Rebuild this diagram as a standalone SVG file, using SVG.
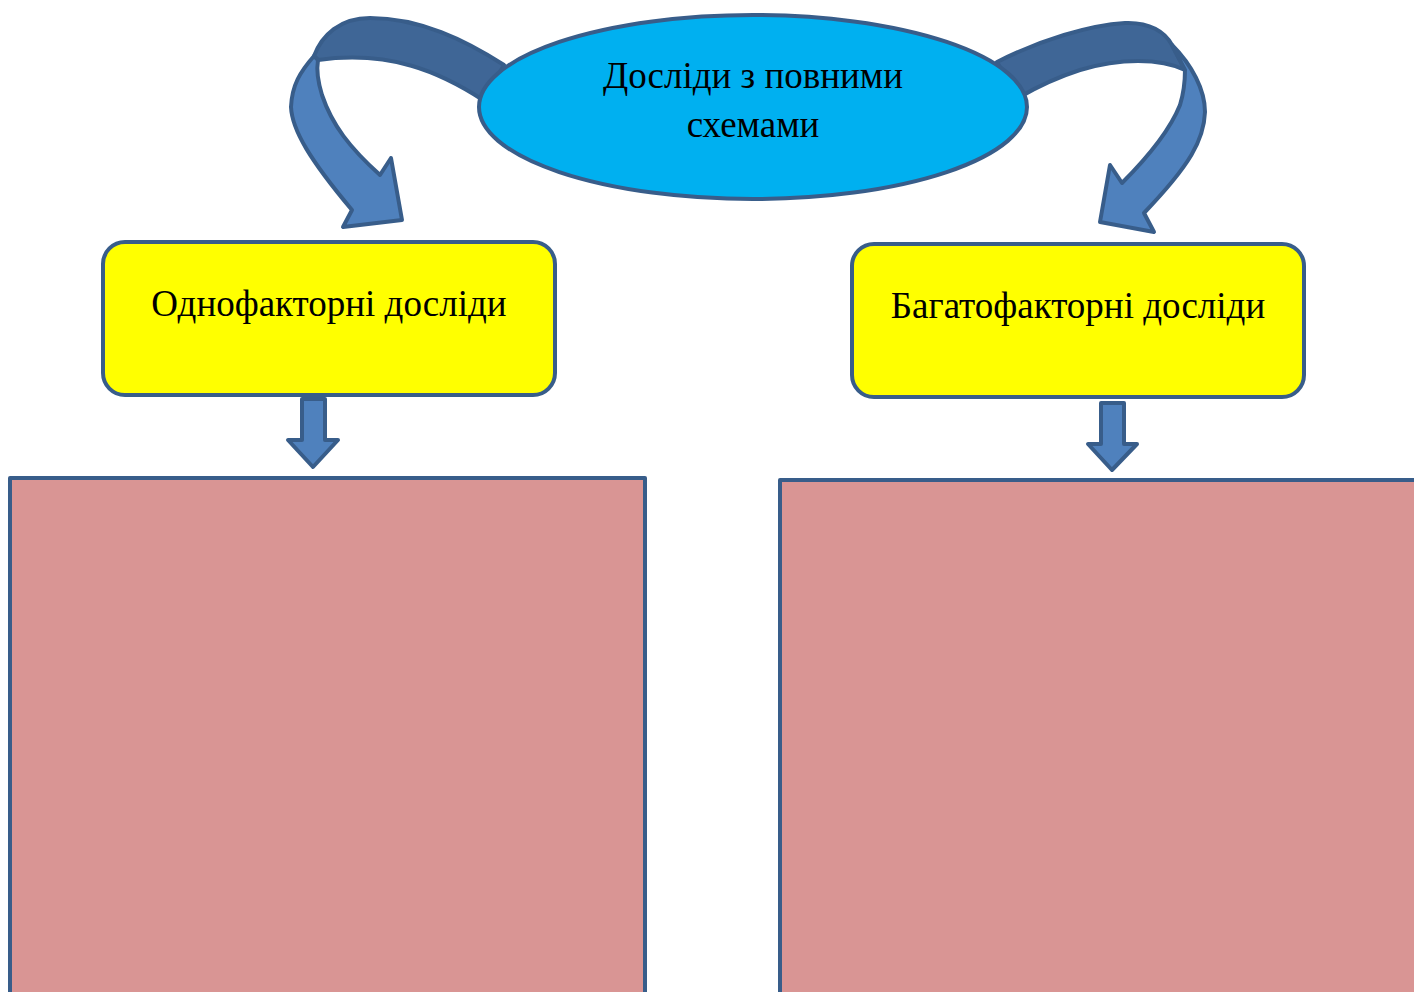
<svg xmlns="http://www.w3.org/2000/svg" width="1414" height="992" viewBox="0 0 1414 992">
<style>
.st{stroke:#385D8A;stroke-width:4;stroke-linejoin:round}
.pink{fill:#D99594}
.yel{fill:#FFFF00}
.front{fill:#4F81BD}
.back{fill:#3F6696}
.t{font-family:"Liberation Serif","Times New Roman",serif;font-size:37px;fill:#000;text-anchor:middle}
</style>
<rect width="1414" height="992" fill="#fff"/>
<g id="connectors">
  <path class="st back" d="M 314,56 C 322,35 340,18 370,18 C 420,18 465,40 504,65 L 483,100 C 440,72 390,50 318,60 Z"/>
  <path class="st front" d="M 314,56 C 300,72 292,85 291,107 C 292,130 310,160 352,210 L 343,227 L 402,220 L 391,158 L 380,175 C 350,148 332,125 322,95 C 318,82 316,72 318,60 Z"/>
  <path class="st back" d="M 997,62 C 1040,40 1090,25 1125,23 C 1150,22 1165,32 1172,45 L 1185,70 C 1160,58 1120,58 1080,70 C 1055,78 1035,88 1018,98 Z"/>
  <path class="st front" d="M 1172,45 C 1192,65 1205,90 1205,112 C 1204,140 1190,165 1144,213 L 1154,232 L 1100,222 L 1110,165 L 1122,183 C 1150,155 1170,130 1180,105 C 1184,92 1185,80 1185,70 Z"/>
  <path class="st front" d="M 302,399 L 325,399 L 325,440 L 338,440 L 313,467 L 288,440 L 302,440 Z"/>
  <path class="st front" d="M 1101,403 L 1124,403 L 1124,444 L 1137,444 L 1112,470 L 1088,444 L 1101,444 Z"/>
</g>
<g id="top">
  <ellipse class="st" cx="753" cy="107" rx="274" ry="92" fill="#00B0F0"/>
  <text class="t" x="753" y="88">Досліди з повними</text>
  <text class="t" x="753" y="137">схемами</text>
</g>
<g id="left">
  <rect class="st yel" x="103" y="242" width="452" height="153" rx="22"/>
  <text class="t" x="329" y="316">Однофакторні досліди</text>
</g>
<g id="right">
  <rect class="st yel" x="852" y="244" width="452" height="153" rx="22"/>
  <text class="t" x="1078" y="318">Багатофакторні досліди</text>
</g>
<g id="left-box">
  <rect class="st pink" x="10" y="478" width="635" height="520"/>
</g>
<g id="right-box">
  <rect class="st pink" x="780" y="480" width="640" height="520"/>
</g>
</svg>
